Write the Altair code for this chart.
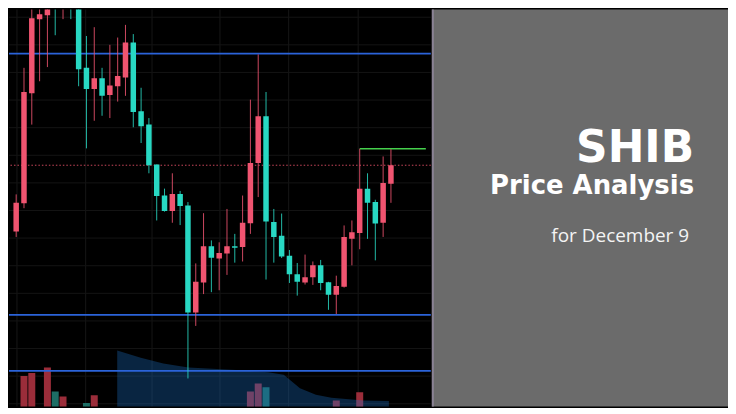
import altair as alt
import pandas as pd
import numpy as np

# ---------------- data (prices in 1e-8 USD) ----------------
candle_idx = list(range(49))
open_ = [3421, 3495, 3782, 3975, 3985, 4045, 4010, 4050, 4015, 3848,
         3793, 3821, 3777, 3800, 3823, 3914, 3735, 3700, 3596, 3515,
         3475, 3519, 3489, 3210, 3288, 3383, 3351, 3364, 3383, 3381,
         3443, 3600, 3722, 3446, 3410, 3358, 3310, 3288, 3302, 3333,
         3289, 3256, 3277, 3402, 3417, 3533, 3498, 3444, 3546]
high = [3518, 3848, 4005, 4038, 4070, 4075, 4075, 4088, 4030, 3931,
        3954, 3848, 3908, 3927, 3960, 3936, 3796, 3717, 3596, 3533,
        3573, 3527, 3498, 3338, 3469, 3398, 3393, 3480, 3415, 3515,
        3765, 3883, 3785, 3480, 3468, 3373, 3339, 3361, 3343, 3347,
        3290, 3306, 3437, 3450, 3637, 3573, 3504, 3617, 3636]
low = [3407, 3482, 3700, 3813, 3850, 3933, 3975, 3975, 3800, 3638,
       3710, 3723, 3717, 3760, 3775, 3693, 3652, 3573, 3450, 3473,
       3444, 3438, 3038, 3175, 3258, 3263, 3268, 3308, 3340, 3343,
       3415, 3511, 3296, 3340, 3352, 3287, 3254, 3283, 3282, 3268,
       3217, 3206, 3275, 3333, 3375, 3402, 3346, 3407, 3496]
close = [3496, 3785, 3977, 3988, 4045, 4010, 4050, 4015, 3844, 3793,
         3821, 3775, 3802, 3827, 3914, 3733, 3696, 3594, 3514, 3475,
         3519, 3488, 3210, 3290, 3383, 3353, 3365, 3383, 3379, 3444,
         3600, 3722, 3447, 3407, 3356, 3310, 3290, 3302, 3333, 3287,
         3256, 3279, 3407, 3419, 3533, 3496, 3442, 3548, 3594]

vol_idx = [1, 2, 4, 5, 6, 9, 10, 30, 31, 32, 41, 44]
vol_val = [477, 510, 567, 317, 263, 197, 277, 317, 400, 360, 223, 307]

band_idx = [12.94, 15.96, 18.85, 22.06, 28.17, 32.28, 34.27, 36.35, 38.39, 40.38, 44.49, 47.74]
band_val = [743, 667, 607, 567, 540, 517, 490, 350, 283, 250, 223, 217]

blue_levels = [3885, 3204, 3058]
last_price = [3594]
green_level = [3637]
green_from = [44]

grid_x = [0.1, 8.9, 17.4, 26.1, 34.9, 43.8]
grid_y = [3980, 3908, 3836, 3764, 3692, 3620, 3548, 3476, 3404, 3332, 3260, 3188, 3116, 3044, 2972]

title_lines = ["SHIB", "Price Analysis", "for December 9"]

# ---------------- layout / style ----------------
W1, W2, H = 423, 297, 398
X_DOM = [-0.281, 52.47]
P_DOM = [2965, 4000]
V_DOM = [160, 4300]
RED, CYAN = "#f05470", "#28d8c3"
VRED, VCYAN = "#9b2d3a", "#1d6e65"

df = pd.DataFrame({"i": candle_idx, "open": open_, "high": high, "low": low, "close": close})
df["dir"] = np.where(df["close"] >= df["open"], "up", "down")
vdf = pd.DataFrame({"i": vol_idx, "vol": vol_val}).merge(df[["i", "dir"]], on="i")
band = pd.DataFrame({"i": band_idx, "v": band_val})

xs = alt.Scale(domain=X_DOM, nice=False, zero=False)
ps = alt.Scale(domain=P_DOM, nice=False, zero=False)
vs = alt.Scale(domain=V_DOM, nice=False, zero=False)

gx = alt.Chart(pd.DataFrame({"g": grid_x})).mark_rule(color="#161616", strokeWidth=1).encode(
    x=alt.X("g:Q", scale=xs, axis=None))
gy = alt.Chart(pd.DataFrame({"g": grid_y})).mark_rule(color="#141414", strokeWidth=1).encode(
    y=alt.Y("g:Q", scale=ps, axis=None))

vbars = alt.Chart(vdf).mark_bar(size=7, clip=True).encode(
    x=alt.X("i:Q", scale=xs, axis=None),
    y=alt.Y("vol:Q", scale=vs, axis=None),
    y2=alt.datum(0),
    color=alt.Color("dir:N", scale=alt.Scale(domain=["up", "down"], range=[VRED, VCYAN]), legend=None),
)
area = alt.Chart(band).mark_area(color="#1a6bbf", opacity=0.34, clip=True).encode(
    x=alt.X("i:Q", scale=xs, axis=None),
    y=alt.Y("v:Q", scale=vs, axis=None),
    y2=alt.datum(0),
)

blue = alt.Chart(pd.DataFrame({"p": blue_levels})).mark_rule(color="#2b63d9", strokeWidth=1.7).encode(
    y=alt.Y("p:Q", scale=ps, axis=None))
dotted = alt.Chart(pd.DataFrame({"p": last_price})).mark_rule(
    color="#c8465a", strokeWidth=1, strokeDash=[1.5, 2]).encode(
    y=alt.Y("p:Q", scale=ps, axis=None))
green = alt.Chart(pd.DataFrame({"p": green_level, "x0": green_from, "x1": [X_DOM[1]]})).mark_rule(
    color="#45d04c", strokeWidth=1.5).encode(
    x=alt.X("x0:Q", scale=xs, axis=None), x2="x1:Q",
    y=alt.Y("p:Q", scale=ps, axis=None))

cscale = alt.Scale(domain=["up", "down"], range=[RED, CYAN])
wicks = alt.Chart(df).mark_rule(strokeWidth=1, opacity=0.85, clip=True).encode(
    x=alt.X("i:Q", scale=xs, axis=None),
    y=alt.Y("high:Q", scale=ps, axis=None), y2="low:Q",
    color=alt.Color("dir:N", scale=cscale, legend=None),
)
bodies = alt.Chart(df).mark_bar(size=5.5, clip=True).encode(
    x=alt.X("i:Q", scale=xs, axis=None),
    y=alt.Y("open:Q", scale=ps, axis=None), y2="close:Q",
    color=alt.Color("dir:N", scale=cscale, legend=None),
)

left = alt.layer(gx, gy, vbars, area, blue, dotted, green, wicks, bodies).resolve_scale(
    y="independent", color="independent").properties(
    width=W1, height=H, view=alt.ViewBackground(fill="#000000", stroke=None))

sep = alt.Chart(pd.DataFrame({"a": [0]})).mark_rule(color="#8a8294", strokeWidth=2).encode(
    x=alt.value(1), y=alt.value(0), y2=alt.value(H))
t1 = alt.Chart(pd.DataFrame({"t": [title_lines[0]]})).mark_text(
    font="DejaVu Sans", fontWeight="bold", fontSize=44, color="#ffffff",
    align="right", baseline="alphabetic").encode(text="t:N", x=alt.value(263), y=alt.value(153.2))
t2 = alt.Chart(pd.DataFrame({"t": [title_lines[1]]})).mark_text(
    font="DejaVu Sans", fontWeight="bold", fontSize=26, color="#ffffff",
    align="right", baseline="alphabetic").encode(text="t:N", x=alt.value(263), y=alt.value(185.3))
t3 = alt.Chart(pd.DataFrame({"t": [title_lines[2]]})).mark_text(
    font="Open Sans", fontWeight="normal", fontSize=19, color="#f4f4f4",
    align="right", baseline="alphabetic").encode(text="t:N", x=alt.value(258), y=alt.value(233.3))

right = alt.layer(sep, t1, t2, t3).properties(
    width=W2, height=H, view=alt.ViewBackground(fill="#6b6b6b", stroke=None))

chart = alt.hconcat(left, right, spacing=0).properties(
    padding=0, background="#000000").configure_view(stroke=None)

chart.save("out.html", embed_options={"renderer": "svg", "actions": False})
